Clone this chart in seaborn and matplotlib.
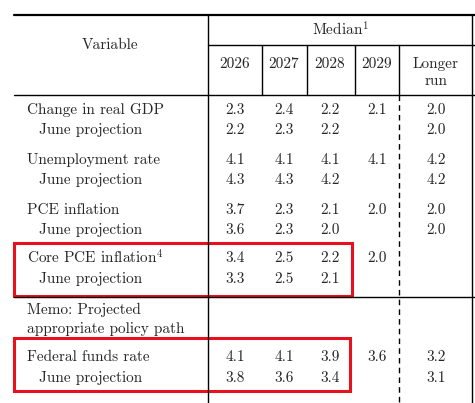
import matplotlib
matplotlib.use("Agg")
import matplotlib.pyplot as plt
import matplotlib.patches as mpatches
import seaborn as sns

sns.set_style("white")
plt.rcParams['font.family'] = ['cmr10', 'DejaVu Serif']
plt.rcParams['mathtext.fontset'] = 'cm'
plt.rcParams['axes.unicode_minus'] = False

columns = ["2026", "2027", "2028", "2029", "Longer\nrun"]
row_labels = ["Change in real GDP", "June projection", "Unemployment rate", "June projection",
              "PCE inflation", "June projection", "Core PCE inflation$^4$", "June projection",
              "Memo: Projected", "appropriate policy path",
              "Federal funds rate", "June projection"]
indent = [0, 1, 0, 1, 0, 1, 0, 1, 0, 0, 0, 1]
values = [
    ["2.3", "2.4", "2.2", "2.1", "2.0"],
    ["2.2", "2.3", "2.2", "", "2.0"],
    ["4.1", "4.1", "4.1", "4.1", "4.2"],
    ["4.3", "4.3", "4.2", "", "4.2"],
    ["3.7", "2.3", "2.1", "2.0", "2.0"],
    ["3.6", "2.3", "2.0", "", "2.0"],
    ["3.4", "2.5", "2.2", "2.0", ""],
    ["3.3", "2.5", "2.1", "", ""],
    ["", "", "", "", ""],
    ["", "", "", "", ""],
    ["4.1", "4.1", "3.9", "3.6", "3.2"],
    ["3.8", "3.6", "3.4", "", "3.1"],
]
row_y = [110, 130, 160, 180, 210, 230, 258, 279, 310, 329, 357, 378]
col_x = [235, 284, 330, 377, 436]

fig = plt.figure(figsize=(4.75, 4.03), dpi=100)
ax = fig.add_axes([0, 0, 1, 1])
ax.set_xlim(0, 475)
ax.set_ylim(403, 0)
ax.axis("off")

fs = 11
lw = 1.0
# rules
ax.plot([14, 475], [15, 15], color="black", lw=1.6)
ax.plot([208, 475], [45, 45], color="black", lw=lw)
ax.plot([14, 475], [95, 95], color="black", lw=lw)
ax.plot([14, 475], [297, 297], color="black", lw=lw)
ax.plot([208, 208], [15, 403], color="black", lw=lw)
ax.plot([472, 472], [15, 403], color="black", lw=lw)
for x in [262, 307, 355, 399]:
    ax.plot([x, x], [45, 95], color="black", lw=lw)
ax.plot([399, 399], [95, 403], color="black", lw=lw, ls=(0, (4, 3)))

ax.text(110, 45, "Variable", ha="center", va="center", fontsize=fs)
ax.text(340, 30, "Median$^1$", ha="center", va="center", fontsize=fs)
for x, c in zip(col_x, columns):
    ax.text(x, 57, c, ha="center", va="top", fontsize=fs, linespacing=1.3)

for y, lab, ind, vals in zip(row_y, row_labels, indent, values):
    ax.text(27 + 12 * ind, y, lab, ha="left", va="center", fontsize=fs)
    for x, v in zip(col_x, vals):
        if v:
            ax.text(x, y, v, ha="center", va="center", fontsize=fs)

for (x0, y0, x1, y1) in [(14, 243, 352, 296), (14, 338, 350, 391)]:
    ax.add_patch(mpatches.Rectangle((x0, y0), x1 - x0, y1 - y0, fill=False,
                                    edgecolor="#e8101c", lw=2.2))

fig.savefig("out.png", dpi=100, facecolor="white")
